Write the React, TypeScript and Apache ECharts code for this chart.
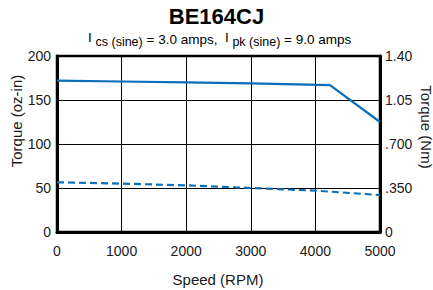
import React, { useEffect, useRef } from "react";
import * as echarts from "echarts";

const peakSpeeds = [0, 1000, 2000, 3000, 4226, 5000];
const peakTorque = [172, 171, 170, 169, 167, 125];
const contSpeeds = [0, 1000, 2000, 3000, 4000, 5000];
const contTorque = [56.5, 55, 53, 50, 47, 42];
const rightTickLabels = ["0", ".350", ".700", "1.05", "1.40"];

const FONT = "Liberation Sans, Arial, sans-serif";
const BLUE = "#0a6fba";
const INK = "#1a1a1a";

const subPieces = [
  { t: "I", x: 88, size: 13.5, y: 37 },
  { t: "cs (sine)", x: 95.5, size: 12.5, y: 41.5 },
  { t: "= 3.0 amps,", x: 146.5, size: 13.5, y: 39 },
  { t: "I", x: 225, size: 13.5, y: 37 },
  { t: "pk (sine)", x: 232.4, size: 12.5, y: 41.5 },
  { t: "= 9.0 amps", x: 284, size: 13.5, y: 39 },
];

export default function App() {
  const ref = useRef<HTMLDivElement>(null);
  useEffect(() => {
    if (!ref.current) return;
    const chart = echarts.init(ref.current, undefined, { renderer: "svg" });
    chart.setOption({
      animation: false,
      backgroundColor: "#fff",
      textStyle: { fontFamily: FONT },
      title: {
        text: "BE164CJ",
        left: "center",
        top: 4,
        padding: 0,
        textStyle: { fontFamily: FONT, fontSize: 22, fontWeight: "bold", color: "#000", lineHeight: 24 },
      },
      graphic: [
        ...subPieces.map((p) => ({
          type: "text",
          x: p.x,
          y: p.y,
          style: {
            text: p.t,
            fontFamily: FONT,
            fontSize: p.size,
            fill: "#000",
            align: "left",
            verticalAlign: "middle",
          },
        })),
        {
          type: "text",
          x: 16,
          y: 121,
          rotation: Math.PI / 2,
          style: {
            text: "Torque (oz-in)",
            fontFamily: FONT,
            fontSize: 15,
            fill: INK,
            align: "center",
            verticalAlign: "middle",
          },
        },
        {
          type: "text",
          x: 426,
          y: 127,
          rotation: -Math.PI / 2,
          style: {
            text: "Torque (Nm)",
            fontFamily: FONT,
            fontSize: 15,
            fill: INK,
            align: "center",
            verticalAlign: "middle",
          },
        },
        {
          type: "text",
          x: 218,
          y: 279,
          style: {
            text: "Speed (RPM)",
            fontFamily: FONT,
            fontSize: 15,
            fill: INK,
            align: "center",
            verticalAlign: "middle",
          },
        },
      ],
      grid: {
        left: 57,
        right: 53,
        top: 56,
        bottom: 58,
        show: true,
        borderColor: "#000",
        borderWidth: 2.5,
      },
      xAxis: {
        type: "value",
        min: 0,
        max: 5000,
        interval: 1000,
        axisLine: { show: true, lineStyle: { color: "#000", width: 3 } },
        axisTick: { show: false },
        axisLabel: {
          fontFamily: FONT,
          fontSize: 14,
          color: INK,
          margin: 12,
          formatter: (v: number) => String(v),
        },
        splitLine: { show: true, lineStyle: { color: "#000", width: 1 } },
      },
      yAxis: [
        {
          type: "value",
          min: 0,
          max: 200,
          interval: 50,
          axisLine: { show: true, lineStyle: { color: "#000", width: 3 } },
          axisTick: { show: false },
          axisLabel: { fontFamily: FONT, fontSize: 14, color: INK, margin: 6 },
          splitLine: { show: true, lineStyle: { color: "#000", width: 1 } },
        },
        {
          type: "value",
          position: "right",
          min: 0,
          max: 1.4,
          interval: 0.35,
          axisLine: { show: true, lineStyle: { color: "#000", width: 3 } },
          axisTick: { show: false },
          axisLabel: {
            fontFamily: FONT,
            fontSize: 14,
            color: INK,
            margin: 5,
            formatter: (_v: number, i: number) => rightTickLabels[i] ?? "",
          },
          splitLine: { show: false },
        },
      ],
      series: [
        {
          type: "line",
          data: peakSpeeds.map((s, i) => [s, peakTorque[i]]),
          showSymbol: false,
          lineStyle: { color: BLUE, width: 2.2 },
          z: 5,
        },
        {
          type: "line",
          data: contSpeeds.map((s, i) => [s, contTorque[i]]),
          showSymbol: false,
          lineStyle: { color: BLUE, width: 2.2, type: [7, 4] },
          z: 5,
        },
      ],
    });
    return () => chart.dispose();
  }, []);
  return (
    <div
      ref={ref}
      style={{ width: 433, height: 290, position: "absolute", left: 0, top: 0 }}
    />
  );
}
